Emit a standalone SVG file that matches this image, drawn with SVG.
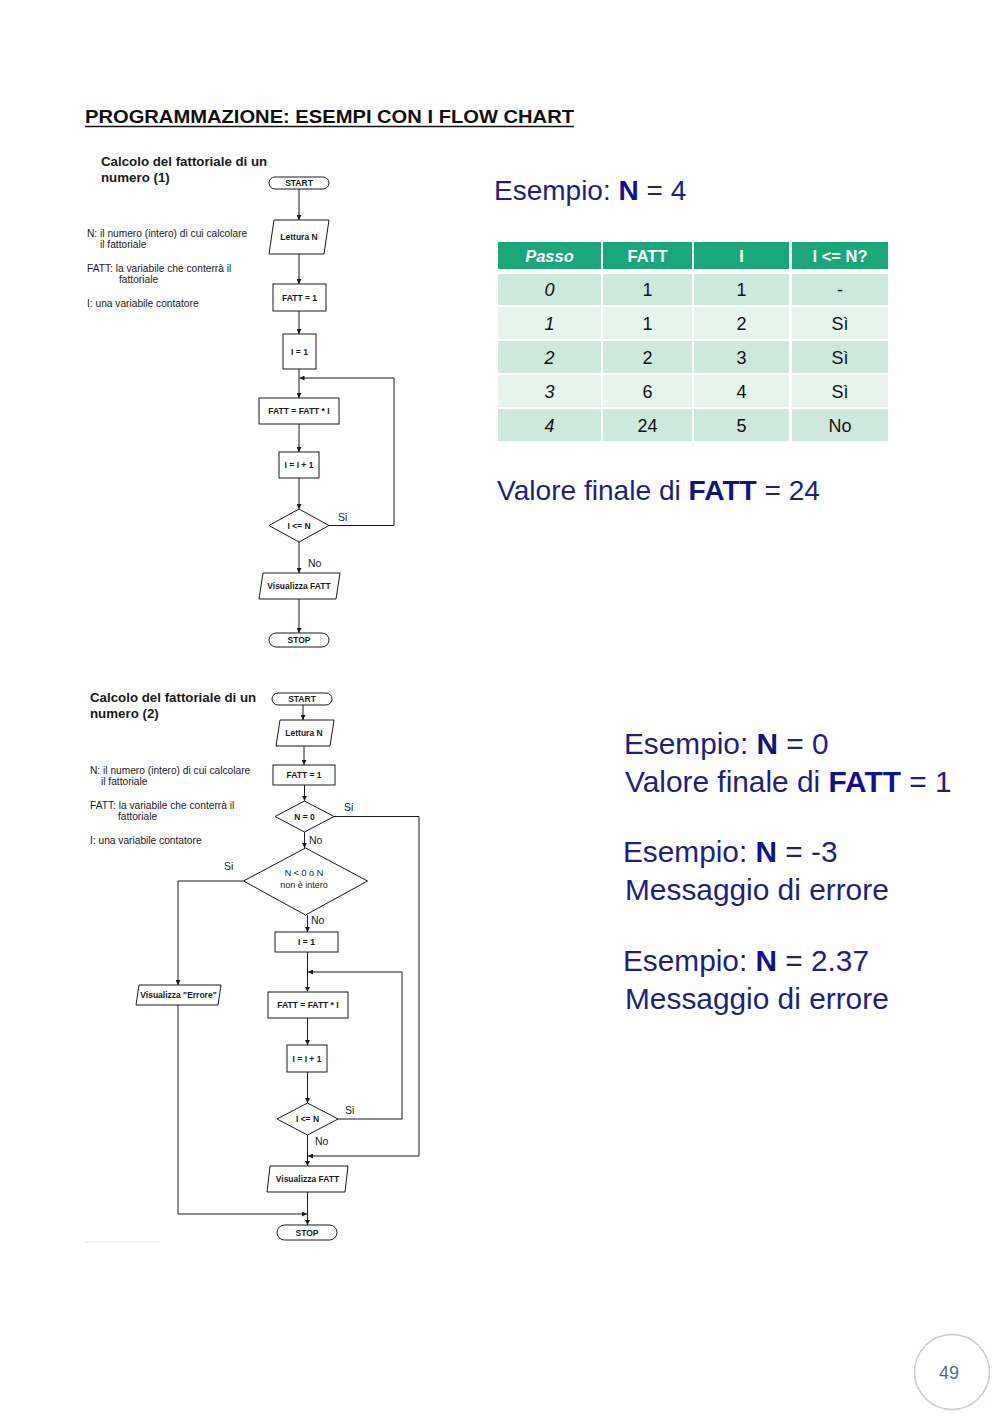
<svg xmlns="http://www.w3.org/2000/svg" width="1000" height="1414" viewBox="0 0 1000 1414">
<style>
.bg{fill:#ffffff}
.nd{fill:#ffffff;stroke:#1a1a1a;stroke-width:1}
.nt{font-family:"Liberation Sans",Arial,sans-serif;font-size:8.5px;font-weight:bold;fill:#1a1a1a;text-anchor:middle}
.dt{font-family:"Liberation Sans",Arial,sans-serif;font-size:9px;fill:#1a1a1a;text-anchor:middle}
.ln{fill:none;stroke:#1a1a1a;stroke-width:1}
.lb{font-family:"Liberation Sans",Arial,sans-serif;font-size:10.5px;fill:#1a1a1a}
.ct{font-family:"Liberation Sans",Arial,sans-serif;font-size:13.3px;font-weight:bold;fill:#1a1a1a}
.vt{font-family:"Liberation Sans",Arial,sans-serif;font-size:10.2px;fill:#1a1a1a}
.bt{font-family:"Liberation Sans",Arial,sans-serif;fill:#1c1f84}
.bb{font-weight:bold;fill:#10128a}
.th{font-family:"Liberation Sans",Arial,sans-serif;font-size:16.5px;font-weight:bold;fill:#ffffff;text-anchor:middle}
.td{font-family:"Liberation Sans",Arial,sans-serif;font-size:18px;fill:#111111;text-anchor:middle}
.hd{fill:#1aa77a}
.r1{fill:#cde9dd}
.r2{fill:#e7f4ee}
</style>
<defs>
<marker id="ar" markerWidth="5" markerHeight="5" refX="5" refY="2.5" orient="auto" markerUnits="userSpaceOnUse">
<path d="M0,0 L5,2.5 L0,5 z" fill="#1a1a1a"/>
</marker>
</defs>
<rect class="bg" x="0" y="0" width="1000" height="1414"/>

<g id="page-title">
<text x="85" y="123" font-family="Liberation Sans,Arial,sans-serif" font-size="18" font-weight="bold" fill="#111" textLength="489" lengthAdjust="spacingAndGlyphs">PROGRAMMAZIONE: ESEMPI CON I FLOW CHART</text>
<line x1="85" y1="126.5" x2="574" y2="126.5" stroke="#111" stroke-width="1.5"/>
</g>

<!-- ===== Flowchart 1 ===== -->
<g id="fc1-caption">
<text class="ct" x="101" y="166">Calcolo del fattoriale di un</text>
<text class="ct" x="101" y="182">numero (1)</text>
<text class="vt" x="87" y="237">N: il numero (intero) di cui calcolare</text>
<text class="vt" x="100" y="248">il fattoriale</text>
<text class="vt" x="87" y="272">FATT: la variabile che conterrà il</text>
<text class="vt" x="119" y="283">fattoriale</text>
<text class="vt" x="87" y="307">I: una variabile contatore</text>
</g>

<g id="fc1-connectors">
<line class="ln" x1="299" y1="189" x2="299" y2="220" marker-end="url(#ar)"/>
<line class="ln" x1="299" y1="254" x2="299" y2="284" marker-end="url(#ar)"/>
<line class="ln" x1="299" y1="311" x2="299" y2="334" marker-end="url(#ar)"/>
<line class="ln" x1="299" y1="369" x2="299" y2="398" marker-end="url(#ar)"/>
<polyline class="ln" points="328,525.5 394,525.5 394,378 299.5,378" marker-end="url(#ar)"/>
<line class="ln" x1="299" y1="424" x2="299" y2="452" marker-end="url(#ar)"/>
<line class="ln" x1="299" y1="478" x2="299" y2="509" marker-end="url(#ar)"/>
<line class="ln" x1="299" y1="542" x2="299" y2="573" marker-end="url(#ar)"/>
<line class="ln" x1="299" y1="599" x2="299" y2="633" marker-end="url(#ar)"/>
<text class="lb" x="338" y="521">Si</text>
<text class="lb" x="308" y="567">No</text>
</g>

<g id="fc1-start"><rect class="nd" x="269" y="177" width="60" height="12" rx="6"/><text class="nt" x="299" y="186">START</text></g>
<g id="fc1-read"><polygon class="nd" points="274,220 329,220 324,254 269,254"/><text class="nt" x="299" y="240">Lettura N</text></g>
<g id="fc1-fatt1"><rect class="nd" x="273" y="284" width="53" height="27"/><text class="nt" x="299.5" y="300.5">FATT = 1</text></g>
<g id="fc1-i1"><rect class="nd" x="283" y="334" width="33" height="35"/><text class="nt" x="299.5" y="354.5">I = 1</text></g>
<g id="fc1-mul"><rect class="nd" x="259" y="398" width="80" height="26"/><text class="nt" x="299" y="414">FATT = FATT * I</text></g>
<g id="fc1-inc"><rect class="nd" x="279" y="452" width="40" height="26"/><text class="nt" x="299" y="468">I = I + 1</text></g>
<g id="fc1-cond"><polygon class="nd" points="269,525.5 299,509 329,525.5 299,542"/><text class="nt" x="299" y="528.5">I &lt;= N</text></g>
<g id="fc1-show"><polygon class="nd" points="263,573 340,573 336,599 259,599"/><text class="nt" x="299" y="589">Visualizza FATT</text></g>
<g id="fc1-stop"><rect class="nd" x="269" y="633" width="60" height="14" rx="7"/><text class="nt" x="299" y="643">STOP</text></g>

<!-- ===== Example 1 ===== -->
<g id="ex1">
<text class="bt" x="494" y="200" font-size="28">Esempio: <tspan class="bb">N</tspan> = 4</text>
<text class="bt" x="497" y="500" font-size="28.1">Valore finale di <tspan class="bb">FATT</tspan> = 24</text>
</g>

<g id="table">
<rect class="hd" x="498" y="242" width="103" height="27"/>
<rect class="hd" x="603" y="242" width="89" height="27"/>
<rect class="hd" x="694" y="242" width="95" height="27"/>
<rect class="hd" x="792" y="242" width="96" height="27"/>
<rect class="r1" x="498" y="274" width="103" height="31"/>
<rect class="r1" x="603" y="274" width="89" height="31"/>
<rect class="r1" x="694" y="274" width="95" height="31"/>
<rect class="r1" x="792" y="274" width="96" height="31"/>
<rect class="r2" x="498" y="307" width="103" height="32"/>
<rect class="r2" x="603" y="307" width="89" height="32"/>
<rect class="r2" x="694" y="307" width="95" height="32"/>
<rect class="r2" x="792" y="307" width="96" height="32"/>
<rect class="r1" x="498" y="341" width="103" height="32"/>
<rect class="r1" x="603" y="341" width="89" height="32"/>
<rect class="r1" x="694" y="341" width="95" height="32"/>
<rect class="r1" x="792" y="341" width="96" height="32"/>
<rect class="r2" x="498" y="375" width="103" height="32"/>
<rect class="r2" x="603" y="375" width="89" height="32"/>
<rect class="r2" x="694" y="375" width="95" height="32"/>
<rect class="r2" x="792" y="375" width="96" height="32"/>
<rect class="r1" x="498" y="409" width="103" height="32"/>
<rect class="r1" x="603" y="409" width="89" height="32"/>
<rect class="r1" x="694" y="409" width="95" height="32"/>
<rect class="r1" x="792" y="409" width="96" height="32"/>
<text class="th" x="549.5" y="261.5" font-style="italic">Passo</text>
<text class="th" x="647.5" y="261.5">FATT</text>
<text class="th" x="741.5" y="261.5">I</text>
<text class="th" x="840" y="261.5">I &lt;= N?</text>
<text class="td" x="549.5" y="296" font-style="italic">0</text>
<text class="td" x="647.5" y="296">1</text>
<text class="td" x="741.5" y="296">1</text>
<text class="td" x="840" y="296">-</text>
<text class="td" x="549.5" y="330" font-style="italic">1</text>
<text class="td" x="647.5" y="330">1</text>
<text class="td" x="741.5" y="330">2</text>
<text class="td" x="840" y="330">Sì</text>
<text class="td" x="549.5" y="364" font-style="italic">2</text>
<text class="td" x="647.5" y="364">2</text>
<text class="td" x="741.5" y="364">3</text>
<text class="td" x="840" y="364">Sì</text>
<text class="td" x="549.5" y="398" font-style="italic">3</text>
<text class="td" x="647.5" y="398">6</text>
<text class="td" x="741.5" y="398">4</text>
<text class="td" x="840" y="398">Sì</text>
<text class="td" x="549.5" y="432" font-style="italic">4</text>
<text class="td" x="647.5" y="432">24</text>
<text class="td" x="741.5" y="432">5</text>
<text class="td" x="840" y="432">No</text>
</g>

<!-- ===== Flowchart 2 ===== -->
<g id="fc2-caption">
<text class="ct" x="90" y="702">Calcolo del fattoriale di un</text>
<text class="ct" x="90" y="718">numero (2)</text>
<text class="vt" x="90" y="774">N: il numero (intero) di cui calcolare</text>
<text class="vt" x="101" y="785">il fattoriale</text>
<text class="vt" x="90" y="809">FATT: la variabile che conterrà il</text>
<text class="vt" x="118" y="820">fattoriale</text>
<text class="vt" x="90" y="844">I: una variabile contatore</text>
</g>

<g id="fc2-connectors">
<line class="ln" x1="303" y1="705" x2="303" y2="720" marker-end="url(#ar)"/>
<line class="ln" x1="304" y1="746" x2="304" y2="765" marker-end="url(#ar)"/>
<line class="ln" x1="304.5" y1="785" x2="304.5" y2="801" marker-end="url(#ar)"/>
<polyline class="ln" points="334,816.5 419,816.5 419,1156 308,1156" marker-end="url(#ar)"/>
<line class="ln" x1="304.5" y1="832" x2="304.5" y2="848" marker-end="url(#ar)"/>
<line class="ln" x1="307.5" y1="915" x2="307.5" y2="932" marker-end="url(#ar)"/>
<polyline class="ln" points="243.5,881 178,881 178,985" marker-end="url(#ar)"/>
<polyline class="ln" points="178,1005 178,1214 307,1214" marker-end="url(#ar)"/>
<line class="ln" x1="307.5" y1="952" x2="307.5" y2="992" marker-end="url(#ar)"/>
<polyline class="ln" points="337,1119 402,1119 402,972 308,972" marker-end="url(#ar)"/>
<line class="ln" x1="307.5" y1="1018" x2="307.5" y2="1045" marker-end="url(#ar)"/>
<line class="ln" x1="307.5" y1="1072" x2="307.5" y2="1103" marker-end="url(#ar)"/>
<line class="ln" x1="307.5" y1="1135" x2="307.5" y2="1166" marker-end="url(#ar)"/>
<line class="ln" x1="307.5" y1="1192" x2="307.5" y2="1225" marker-end="url(#ar)"/>
<text class="lb" x="344" y="811">Si</text>
<text class="lb" x="309" y="844">No</text>
<text class="lb" x="224" y="870">Si</text>
<text class="lb" x="311" y="924">No</text>
<text class="lb" x="345" y="1114">Si</text>
<text class="lb" x="315" y="1145">No</text>
</g>

<g id="fc2-start"><rect class="nd" x="272" y="693" width="60" height="12" rx="6"/><text class="nt" x="302" y="702">START</text></g>
<g id="fc2-read"><polygon class="nd" points="280,720 334,720 330,746 276,746"/><text class="nt" x="304" y="736">Lettura N</text></g>
<g id="fc2-fatt1"><rect class="nd" x="273" y="765" width="62" height="20"/><text class="nt" x="304" y="778">FATT = 1</text></g>
<g id="fc2-n0"><polygon class="nd" points="275,816.5 304.5,801 334,816.5 304.5,832"/><text class="nt" x="304.5" y="819.5">N = 0</text></g>
<g id="fc2-check"><polygon class="nd" points="243.5,881 305.5,848 367.5,881 305.5,915"/><text class="dt" x="304" y="876">N &lt; 0 o N</text><text class="dt" x="304" y="888">non è intero</text></g>
<g id="fc2-err"><polygon class="nd" points="139,985 221,985 218,1005 136,1005"/><text class="nt" x="178.5" y="998">Visualizza "Errore"</text></g>
<g id="fc2-i1"><rect class="nd" x="275" y="932" width="63" height="20"/><text class="nt" x="306.5" y="945">I = 1</text></g>
<g id="fc2-mul"><rect class="nd" x="268" y="992" width="80" height="26"/><text class="nt" x="308" y="1008">FATT = FATT * I</text></g>
<g id="fc2-inc"><rect class="nd" x="287" y="1045" width="40" height="27"/><text class="nt" x="307" y="1061.5">I = I + 1</text></g>
<g id="fc2-cond"><polygon class="nd" points="277,1119 307.5,1103 338,1119 307.5,1135"/><text class="nt" x="307.5" y="1122">I &lt;= N</text></g>
<g id="fc2-show"><polygon class="nd" points="270,1166 348,1166 345,1192 267,1192"/><text class="nt" x="307.5" y="1182">Visualizza FATT</text></g>
<g id="fc2-stop"><rect class="nd" x="277" y="1225" width="60" height="15" rx="7.5"/><text class="nt" x="307" y="1235.5">STOP</text></g>

<line x1="85" y1="1242" x2="160" y2="1242" stroke="#e4e4e4" stroke-width="1"/>

<!-- ===== Examples 2 ===== -->
<g id="ex2">
<text class="bt" x="624" y="754" font-size="29.8">Esempio: <tspan class="bb">N</tspan> = 0</text>
<text class="bt" x="625" y="792" font-size="29.85">Valore finale di <tspan class="bb">FATT</tspan> = 1</text>
<text class="bt" x="623" y="862" font-size="29.8">Esempio: <tspan class="bb">N</tspan> = -3</text>
<text class="bt" x="625" y="900" font-size="29.85">Messaggio di errore</text>
<text class="bt" x="623" y="971" font-size="29.8">Esempio: <tspan class="bb">N</tspan> = 2.37</text>
<text class="bt" x="625" y="1009" font-size="29.85">Messaggio di errore</text>
</g>

<g id="page-number">
<circle cx="952" cy="1372" r="37.5" fill="none" stroke="#c3cbe0" stroke-width="1.5"/>
<text x="949" y="1379" font-family="Liberation Sans,Arial,sans-serif" font-size="18" fill="#4d6c9c" text-anchor="middle">49</text>
</g>
</svg>
